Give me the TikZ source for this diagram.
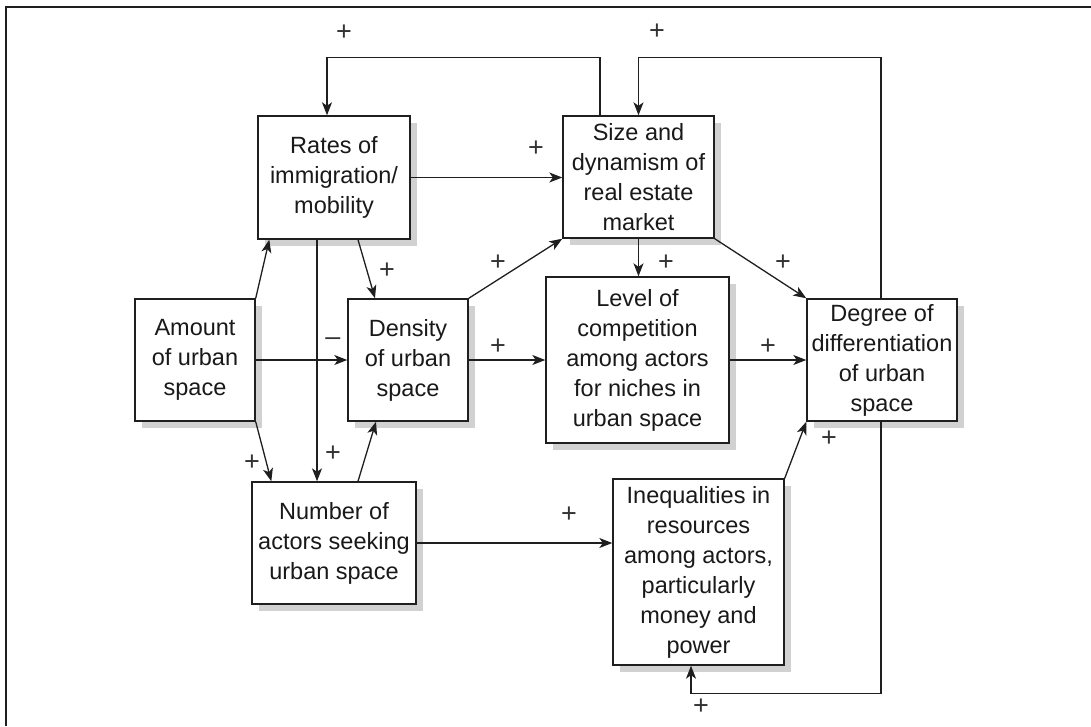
\documentclass[tikz,border=0pt]{standalone}
\usepackage{fontspec}
\setmainfont{Liberation Sans}
\usetikzlibrary{arrows.meta,shadows}
\begin{document}
\begin{tikzpicture}[x=1pt,y=-1pt,
  every node/.style={font=\fontsize{23.5}{30}\selectfont, text=black!90},
  box/.style={draw=black!88, line width=1.4pt, fill=white, align=center,
    inner sep=0pt,
    drop shadow={shadow xshift=7pt,shadow yshift=-7pt,fill=black!18,opacity=1}},
  arr/.style={draw=black!88, line width=1.3pt, -{Stealth[length=13pt,width=10pt,inset=3.5pt]}},
  sign/.style={font=\fontsize{27}{27}\selectfont, text=black!80, inner sep=0pt}]
\useasboundingbox (0,0) rectangle (1091,726);
% outer frame (only its top and left edges fall inside the page)
\draw[black!88, line width=1.7pt] (6,726) -- (6,7) -- (1091,7);

% boxes
\node[box, minimum width=152pt, minimum height=123pt] (rates) at (334,177.5) {Rates of\\immigration/\\mobility};
\node[box, minimum width=151pt, minimum height=122pt] (size) at (638.5,177) {Size and\\dynamism of\\real estate\\market};
\node[box, minimum width=120pt, minimum height=122pt] (amount) at (195,360) {Amount\\of urban\\space};
\node[box, minimum width=120pt, minimum height=122pt] (density) at (408,360) {Density\\of urban\\space};
\node[box, minimum width=183pt, minimum height=166pt] (level) at (637.5,360) {Level of\\competition\\among actors\\for niches in\\urban space};
\node[box, minimum width=150pt, minimum height=122pt] (degree) at (882,360) {Degree of\\differentiation\\of urban\\space};
\node[box, minimum width=171pt, minimum height=186pt] (ineq) at (698.5,572) {Inequalities in\\resources\\among actors,\\particularly\\money and\\power};
\node[box, minimum width=164pt, minimum height=122pt] (number) at (334,543) {Number of\\actors seeking\\urban space};

% feedback loops
\draw[arr] ([xshift=-38.5pt]size.north) -- ++(0,-58) -| ([xshift=-7pt]rates.north);
\draw[arr] ([xshift=-1pt]degree.north) -- ++(0,-241) -| (size.north);
\draw[arr] ([xshift=-1pt]degree.south) -- ++(0,272) -| ([xshift=-7.5pt]ineq.south);

% direct links
\draw[arr] (rates.east) -- (rates.east -| size.west);
\draw[arr] (amount.north east) -- ([xshift=12pt]rates.south west);
\draw[arr] (amount.east) -- (density.west);
\draw[arr] ([xshift=-17pt]rates.south) -- ([xshift=-17pt]number.north);
\draw[arr] ([xshift=24pt]rates.south) -- ([xshift=-33pt]density.north);
\draw[arr] (amount.south east) -- ([xshift=20pt]number.north west);
\draw[arr] ([xshift=24pt]number.north) -- ([xshift=-32pt]density.south);
\draw[arr] (density.north east) -- (size.south west);
\draw[arr] (density.east) -- (level.west);
\draw[arr] (size.south) -- (size.south |- level.north);
\draw[arr] (size.south east) -- (degree.north west);
\draw[arr] (level.east) -- (degree.west);
\draw[arr] (ineq.north east) -- (degree.south west);
\draw[arr] (number.east) -- (number.east -| ineq.west);

% signs
\node[sign] (s1) at (344,33) {+};
\node[sign] (s2) at (657,32) {+};
\node[sign] (s3) at (536,149) {+};
\node[sign] (s4) at (387,271) {+};
\node[sign] (s5) at (333,342) {\textendash};
\node[sign] (s6) at (252,463) {+};
\node[sign] (s7) at (333,454) {+};
\node[sign] (s8) at (498,263) {+};
\node[sign] (s9) at (498,347) {+};
\node[sign] (s10) at (666,263) {+};
\node[sign] (s11) at (783,263) {+};
\node[sign] (s12) at (768,347) {+};
\node[sign] (s13) at (829,439) {+};
\node[sign] (s14) at (569,515) {+};
\node[sign] (s15) at (701,707) {+};
\end{tikzpicture}
\end{document}
